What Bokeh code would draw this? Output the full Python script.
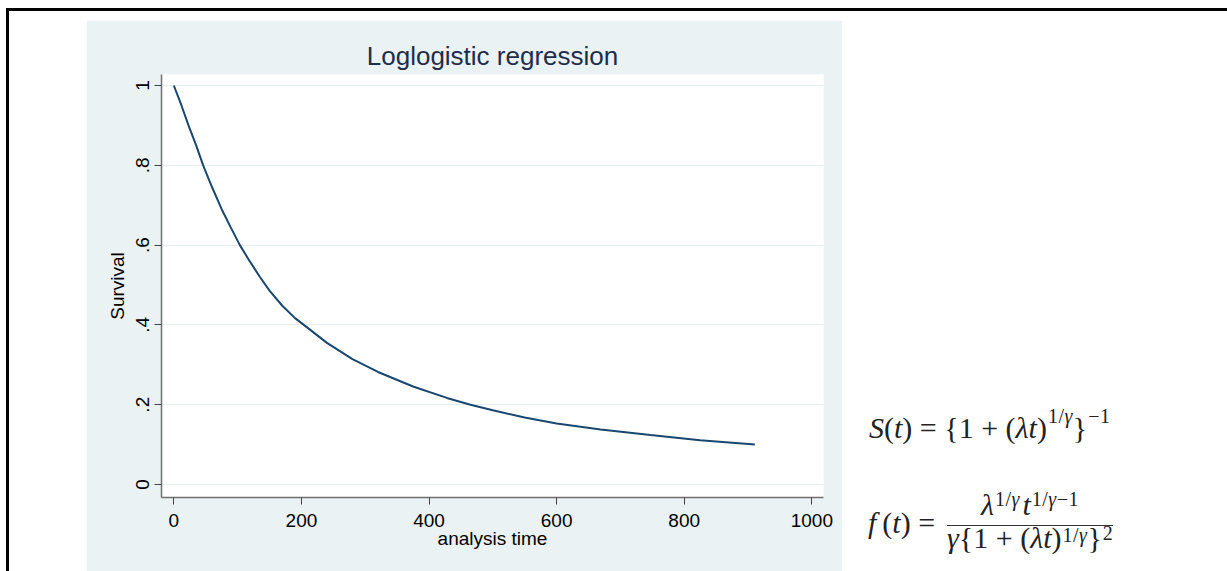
from bokeh.plotting import figure
from bokeh.models import Range1d, FixedTicker, Spacer, Div, Row, Column
from bokeh.embed import file_html
from bokeh.resources import INLINE

# ---- data ----
analysis_time = [0, 12, 23, 35, 46, 60, 75, 89, 103.5, 118, 135, 150, 170, 190,
                 203.8, 240, 280, 320, 376, 428, 465, 500, 550, 600, 669, 747,
                 825, 910.7]
survival = [1.0, 0.95, 0.90, 0.85, 0.80, 0.745, 0.69, 0.645, 0.60, 0.562, 0.52,
            0.486, 0.448, 0.417, 0.40, 0.355, 0.314, 0.282, 0.245, 0.217, 0.20,
            0.186, 0.168, 0.153, 0.138, 0.124, 0.111, 0.100]
x_tick_values = [0, 200, 400, 600, 800, 1000]
y_tick_values = [0, 0.2, 0.4, 0.6, 0.8, 1.0]
y_tick_labels = ["0", ".2", ".4", ".6", ".8", "1"]
title_text = "Loglogistic regression"
x_label = "analysis time"
y_label = "Survival"

PANEL = "#eaf2f3"
FONT = "Liberation Sans"

p = figure(width=756, height=551, output_backend="svg", toolbar_location=None,
           x_range=Range1d(-19.3, 1018.3), y_range=Range1d(-0.0326, 1.0276),
           min_border_left=75, min_border_right=19, min_border_top=54, min_border_bottom=74,
           title=title_text)
p.border_fill_color = PANEL
p.background_fill_color = "white"
p.outline_line_color = None

p.title.align = "center"
p.title.text_font = FONT
p.title.text_font_size = "26px"
p.title.text_font_style = "normal"
p.title.text_color = "#1f2d4d"
p.title.standoff = 8

p.line(analysis_time, survival, line_color="#1a476f", line_width=2)

p.xgrid.visible = False
p.ygrid.grid_line_color = "#e4edf0"
p.ygrid.grid_line_width = 1.2

for ax in (p.xaxis[0], p.yaxis[0]):
    ax.axis_line_color = "#6f6f6f"
    ax.axis_line_width = 1.5
    ax.major_tick_line_color = "#444444"
    ax.major_tick_line_width = 1
    ax.major_tick_out = 7
    ax.major_tick_in = 0
    ax.minor_tick_line_color = None
    ax.major_label_text_font = FONT
    ax.major_label_text_font_size = "19px"
    ax.major_label_text_color = "#000000"
    ax.axis_label_text_font = FONT
    ax.axis_label_text_font_size = "19px"
    ax.axis_label_text_font_style = "normal"
    ax.axis_label_text_color = "#000000"

p.xaxis.ticker = FixedTicker(ticks=x_tick_values)
p.xaxis.axis_label = x_label
p.xaxis.major_label_standoff = 9
p.xaxis.axis_label_standoff = -2

p.yaxis.ticker = FixedTicker(ticks=y_tick_values)
p.yaxis.major_label_overrides = {v: s for v, s in zip(y_tick_values, y_tick_labels)}
p.yaxis.major_label_orientation = "vertical"
p.yaxis.axis_label = y_label
p.yaxis.major_label_standoff = 5
p.yaxis.axis_label_standoff = 6

# ---- formulas as HTML text ----
def sup(s, raise_px):
    style = (f"font-size:20px;position:relative;top:-{raise_px}px;line-height:0;"
             "margin-left:1px;letter-spacing:0.5px;")
    return f'<span style="{style}">{s}</span>'

line_s = ('<i>S</i>(<i>t</i>) = {1 + (<i>λt</i>)' + sup('1/<i>γ</i>', 15) + '}' + sup('−1', 15))
line_f = '<i>f</i>&#8201;(<i>t</i>) ='
numer = '<i>λ</i>' + sup('1/<i>γ</i>', 9) + '&#8202;<i>t</i>' + sup('1/<i>γ</i>−1', 9)
denom = '<i>γ</i>{1 + (<i>λt</i>)' + sup('1/<i>γ</i>', 6) + '}' + sup('2', 8)

html = f'''
<div style="position:relative;width:382px;height:560px;font-family:'Liberation Serif',serif;color:#222;font-size:30px;line-height:30px;">
  <div style="position:absolute;left:22px;top:397px;white-space:nowrap;">{line_s}</div>
  <div style="position:absolute;left:21px;top:492px;white-space:nowrap;">{line_f}</div>
  <div style="position:absolute;left:100px;top:474px;width:166px;text-align:center;white-space:nowrap;">{numer}</div>
  <div style="position:absolute;left:100px;top:509px;width:166px;height:0;border-top:1.5px solid #333;"></div>
  <div style="position:absolute;left:100px;top:507px;width:166px;text-align:center;white-space:nowrap;">{denom}</div>
</div>
'''
formulas = Div(text=html, width=382, height=560)

inner = Row(children=[Spacer(width=77, height=560),
                      Column(children=[Spacer(width=756, height=9), p]),
                      formulas])
boxed = Column(children=[inner],
               styles={"border-top": "3px solid black", "border-left": "3px solid black",
                       "border-right": "3px solid black"})
root = Row(children=[Spacer(width=6, height=571),
                     Column(children=[Spacer(width=1221, height=8), boxed])])

open("out.html", "w").write(file_html(root, INLINE))
